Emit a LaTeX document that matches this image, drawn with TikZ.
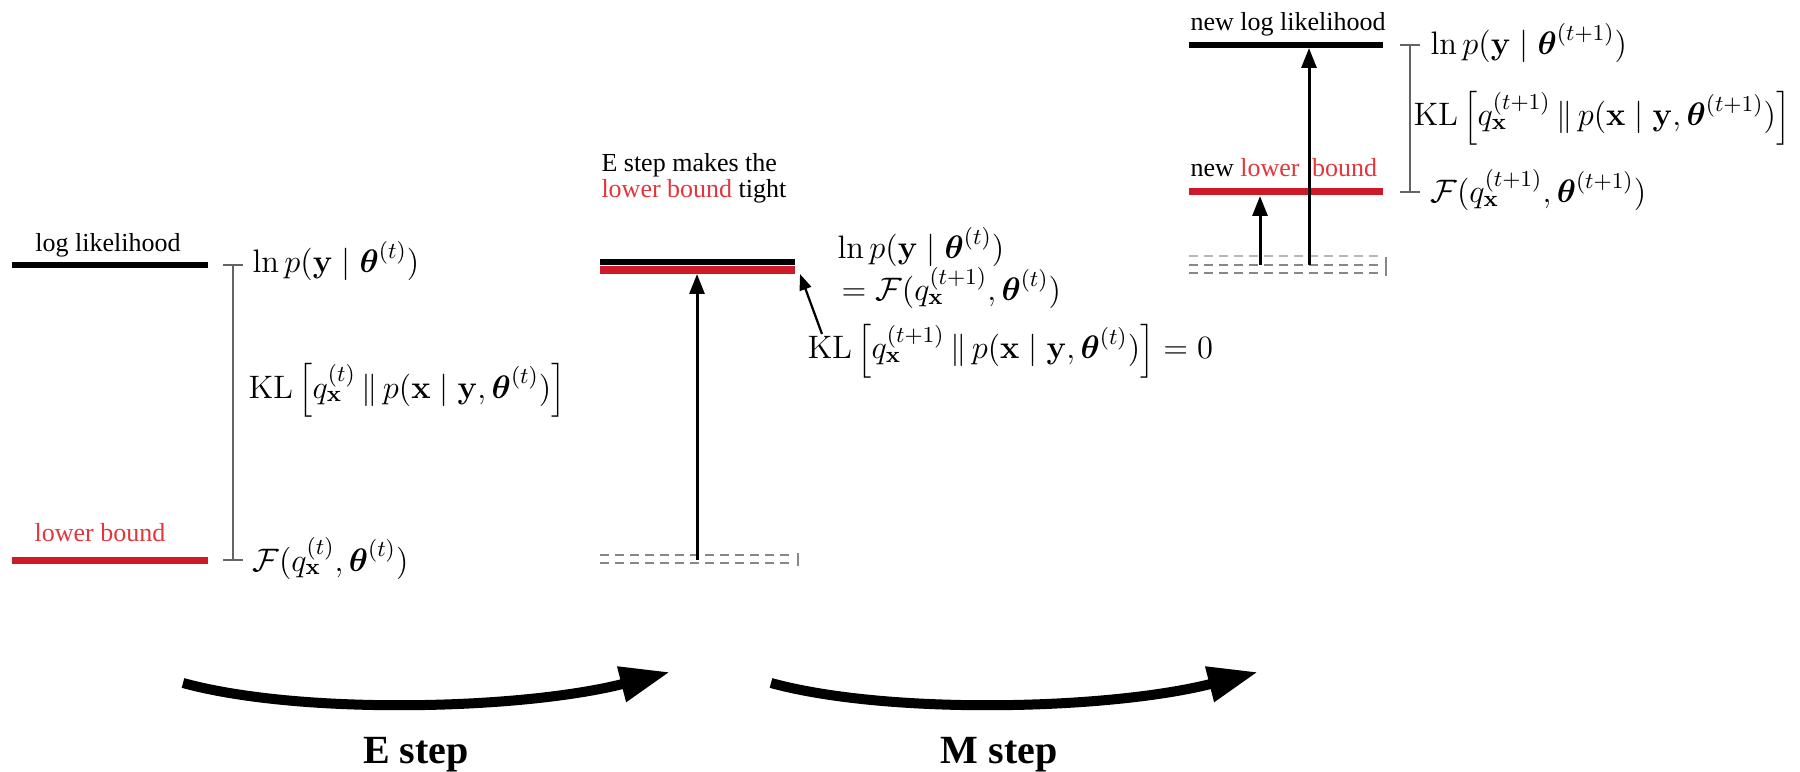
\documentclass[tikz,border=0pt]{standalone}
\usepackage{fix-cm}
\usepackage{amsmath}
\usepackage[no-math]{fontspec}
\setmainfont{Liberation Serif}
\usetikzlibrary{arrows.meta}
\definecolor{lnred}{RGB}{205,25,40}
\definecolor{txtred}{RGB}{225,55,60}
\definecolor{bargray}{RGB}{100,100,100}
\definecolor{dashgray}{RGB}{135,135,135}
\newcommand{\thb}{\boldsymbol{\theta}}
\newcommand{\qx}{q_{\mathbf{x}}}
\begin{document}
\begin{tikzpicture}[x=0.4pt,y=-0.4pt,
  lbl/.style={font=\fontsize{10.4}{11.5}\selectfont, inner sep=0pt},
  mth/.style={font=\fontsize{13}{15}\selectfont, inner sep=0pt, anchor=base west},
  lvlblack/.style={line width=2.4pt, black},
  lvlred/.style={line width=2.8pt, lnred},
  kbar/.style={line width=0.8pt, bargray},
  dsh/.style={line width=0.6pt, dashgray, dash pattern=on 3.6pt off 2.4pt},
  uparr/.style={line width=1.2pt, -{Triangle[length=8pt,width=6pt]}},
  bigarr/.style={line width=4pt, -{Triangle[length=20pt,width=13.6pt]}},
  steplbl/.style={font=\fontsize{16}{18}\selectfont\bfseries, inner sep=0pt, anchor=base},
]
\useasboundingbox (0,0) rectangle (1800,772);

% ---------- left panel ----------
\coordinate (L1a) at (12,265);  \coordinate (L1b) at (208,265);
\coordinate (L2a) at (12,560);  \coordinate (L2b) at (208,560);
\draw[lvlblack] (L1a) -- (L1b);
\draw[lvlred] (L2a) -- (L2b);
\node[lbl, anchor=base] (tLL) at (108,252) {log likelihood};
\node[lbl, anchor=base, text=txtred] (tLB) at (100,541) {lower bound};
\coordinate (LBt) at (233,265); \coordinate (LBb) at (233,560);
\draw[kbar] (LBt) -- (LBb) ([xshift=-4pt]LBt) -- ([xshift=4pt]LBt) ([xshift=-4pt]LBb) -- ([xshift=4pt]LBb);
\node[mth] (mL1) at (252,273) {$\ln p(\mathbf{y}\mid\thb^{(t)})$};
\node[mth] (mL2) at (248,398) {$\mathrm{KL}\left[\qx^{(t)}\,\|\,p(\mathbf{x}\mid\mathbf{y},\thb^{(t)})\right]$};
\node[mth] (mL3) at (252,571) {$\mathcal{F}(\qx^{(t)},\thb^{(t)})$};

% ---------- middle panel ----------
\node[lbl, anchor=base west] (tE1) at (601,172) {E step makes the};
\node[lbl, anchor=base west] (tE2) at (601,198) {\textcolor{txtred}{lower bound} tight};
\coordinate (M1a) at (600,262); \coordinate (M1b) at (795,262);
\coordinate (M2a) at (600,270); \coordinate (M2b) at (795,270);
\draw[lvlblack] (M1a) -- (M1b);
\draw[lvlred, line width=3.2pt] (M2a) -- (M2b);
\coordinate (MD1a) at (600,555); \coordinate (MD1b) at (795,555);
\coordinate (MD2a) at (600,563); \coordinate (MD2b) at (795,563);
\draw[dsh] (MD1a) -- (MD1b);
\draw[dsh] (MD2a) -- (MD2b);
\coordinate (MDt) at (798,553); \coordinate (MDb) at (798,566);
\draw[line width=0.5pt, dashgray] (MDt) -- (MDb);
\coordinate (MAs) at (697,560); \coordinate (MAe) at (697,274);
\draw[uparr] (MAs) -- (MAe);
\node[mth] (mM1) at (837,259) {$\ln p(\mathbf{y}\mid\thb^{(t)})$};
\node[mth] (mM2) at (841,301) {$=\mathcal{F}(\qx^{(t+1)},\thb^{(t)})$};
\node[mth] (mM3) at (807,359) {$\mathrm{KL}\left[\qx^{(t+1)}\,\|\,p(\mathbf{x}\mid\mathbf{y},\thb^{(t)})\right]=0$};
\coordinate (pS) at (822,334); \coordinate (pE) at (800,274);
\draw[line width=0.9pt, -{Triangle[length=6.4pt,width=4.8pt]}] (pS) -- (pE);

% ---------- right panel ----------
\node[lbl, anchor=base west] (tR1) at (1190,31) {new log likelihood};
\node[lbl, anchor=base west] (tR2) at (1190,177) {new \textcolor{txtred}{lower}\hspace{5pt}\textcolor{txtred}{bound}};
\coordinate (R1a) at (1189,45);  \coordinate (R1b) at (1383,45);
\coordinate (R2a) at (1189,192); \coordinate (R2b) at (1383,192);
\draw[lvlblack] (R1a) -- (R1b);
\draw[lvlred] (R2a) -- (R2b);
\coordinate (RD0a) at (1189,256); \coordinate (RD0b) at (1383,256);
\coordinate (RD1a) at (1189,265); \coordinate (RD1b) at (1383,265);
\coordinate (RD2a) at (1189,273); \coordinate (RD2b) at (1383,273);
\draw[dsh, dashgray!60] (RD0a) -- (RD0b);
\draw[dsh] (RD1a) -- (RD1b);
\draw[dsh] (RD2a) -- (RD2b);
\coordinate (RDt) at (1386,257); \coordinate (RDb) at (1386,276);
\draw[line width=0.5pt, dashgray] (RDt) -- (RDb);
\coordinate (RBt) at (1410,45); \coordinate (RBb) at (1410,192);
\draw[kbar] (RBt) -- (RBb) ([xshift=-4pt]RBt) -- ([xshift=4pt]RBt) ([xshift=-4pt]RBb) -- ([xshift=4pt]RBb);
\coordinate (RAs1) at (1260,265); \coordinate (RAe1) at (1260,196);
\coordinate (RAs2) at (1309,265); \coordinate (RAe2) at (1309,48);
\draw[uparr] (RAs1) -- (RAe1);
\draw[uparr] (RAs2) -- (RAe2);
\node[mth] (mR1) at (1430,55) {$\ln p(\mathbf{y}\mid\thb^{(t+1)})$};
\node[mth] (mR2) at (1413,126) {$\mathrm{KL}\left[\qx^{(t+1)}\,\|\,p(\mathbf{x}\mid\mathbf{y},\thb^{(t+1)})\right]$};
\node[mth] (mR3) at (1430,203) {$\mathcal{F}(\qx^{(t+1)},\thb^{(t+1)})$};

% ---------- bottom arrows ----------
\coordinate (Es) at (183,683); \coordinate (Ee) at (670,672);
\draw[bigarr] (Es) .. controls (300,715) and (520,710) .. (Ee);
\coordinate (Ms) at (771,683); \coordinate (Me) at (1258,672);
\draw[bigarr] (Ms) .. controls (888,715) and (1108,710) .. (Me);
\node[steplbl] (sE) at (416,763) {E step};
\node[steplbl] (sM) at (999,763) {M step};
\end{tikzpicture}
\end{document}
